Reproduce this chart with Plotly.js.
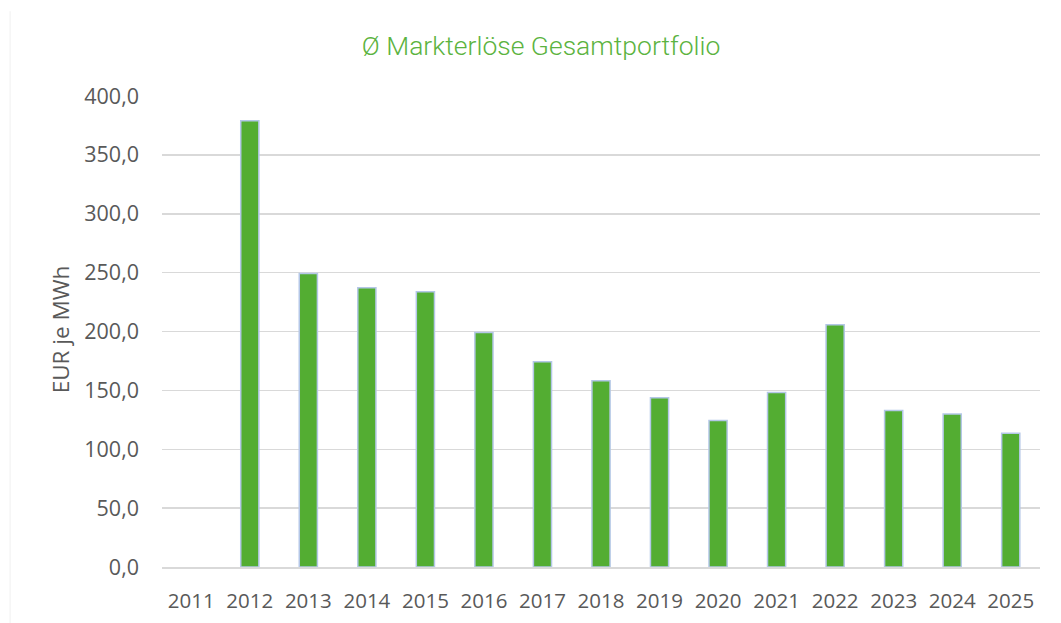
<!DOCTYPE html>
<html>
<head>
<meta charset="utf-8">
<script src="https://cdn.plot.ly/plotly-3.0.1.min.js"></script>
<style>html,body{margin:0;padding:0;background:#fff;}#chart{width:1061px;height:623px;}</style>
</head>
<body>
<div id="chart"></div>
<script>
const years = ["2011","2012","2013","2014","2015","2016","2017","2018","2019","2020","2021","2022","2023","2024","2025"];
const values = [null,379.0,249.3,237.1,233.7,199.2,174.3,158.2,143.7,124.5,148.3,205.7,133.0,129.9,113.5];
const yTicks = [0,50,100,150,200,250,300,350,400];

const trace = {
  type: 'bar',
  x: years,
  y: values,
  marker: {color: '#53ad32', line: {color: '#b4c7e7', width: 1.5}},
  hoverinfo: 'x+y'
};

const layout = {
  width: 1061, height: 623,
  margin: {l: 162, r: 21, t: 96, b: 56},
  paper_bgcolor: '#ffffff', plot_bgcolor: '#ffffff',
  separators: ',.',
  bargap: 0.69,
  showlegend: false,
  font: {family: 'Open Sans, Noto Sans, sans-serif', color: '#595959', size: 21},
  title: {text: 'Ø Markterlöse Gesamtportfolio', x: 0.51, xanchor: 'center', y: 0.926, yanchor: 'middle',
          font: {family: 'Roboto, sans-serif', size: 26.5, color: '#5bb340', weight: 300}},
  xaxis: {type: 'category', showgrid: false, showline: true, linecolor: '#d9d9d9', linewidth: 1.5,
          ticks: '', tickfont: {size: 20.5, color: '#595959'}, ticklabelstandoff: 15},
  yaxis: {range: [0, 400], tickvals: yTicks, tickformat: '.1f', showgrid: true, gridcolor: '#d9d9d9', gridwidth: 1.5,
          zeroline: false, showline: false, ticks: '', tickfont: {size: 21.5, color: '#595959'}, ticklabelstandoff: 22},
  annotations: [{text: 'EUR je MWh', xref: 'paper', yref: 'paper', x: -0.116, y: 0.505, xanchor: 'center', yanchor: 'middle',
                 textangle: -90, showarrow: false, font: {size: 22.5, color: '#595959'}}],
  shapes: [{type: 'line', xref: 'paper', yref: 'paper', x0: -0.173, x1: -0.173, y0: -0.12, y1: 1.18,
            line: {color: '#f0f0f0', width: 1}}]
};

Plotly.newPlot('chart', [trace], layout, {staticPlot: true, displayModeBar: false});
</script>
</body>
</html>
